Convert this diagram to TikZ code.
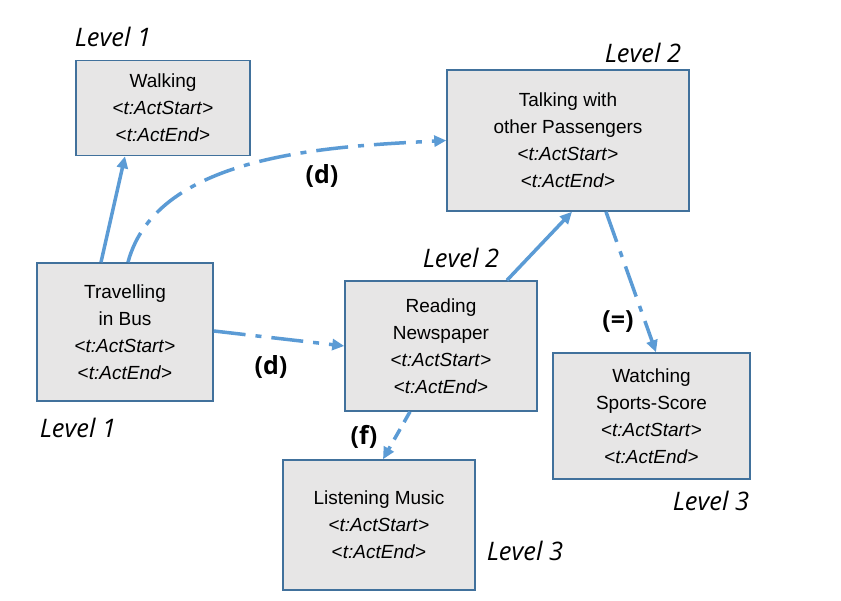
\documentclass[tikz,border=0pt]{standalone}
\usepackage{fontspec}
\setmainfont{Liberation Sans}
\newfontfamily\levelfont{Open Sans}
\usetikzlibrary{arrows.meta}
\usetikzlibrary{positioning}
\definecolor{boxfill}{HTML}{E7E6E6}
\definecolor{boxline}{HTML}{41719C}
\definecolor{arrowblue}{HTML}{5B9BD5}
\tikzset{>=latex}
\tikzstyle{act} = [rectangle, draw = boxline, fill = boxfill, line width = 1.5pt, inner sep = 0, align = center, font = \fontsize{19pt}{27pt}\selectfont]
\tikzstyle{lvl} = [draw=none, inner sep = 1, font = \levelfont\itshape\fontsize{25.5pt}{29pt}\selectfont]
\tikzstyle{rel} = [draw=none, inner sep = 1, font = \levelfont\bfseries\fontsize{25pt}{29pt}\selectfont]
\tikzstyle{link} = [arrowblue, line width = 3.5pt, -{Triangle[length=12pt, width=11pt]}]
\tikzstyle{dashdot} = [link, dash pattern = on 32pt off 10pt on 6pt off 10pt]
\newcommand{\stamps}{\\ \textless\textit{t:ActStart}\textgreater \\ \textless\textit{t:ActEnd}\textgreater}

\begin{document}
\begin{tikzpicture}[x=1pt, y=1pt]
\useasboundingbox (0, 0) rectangle (841, 601);
\node [act, minimum width = 174, minimum height = 95] (Walk) at (163, 493) {Walking\stamps};
\node [act, minimum width = 242, minimum height = 141] (Talk) at (568, 460.5) {Talking with\\ other Passengers\stamps};
\node [act, minimum width = 176, minimum height = 138] (Travel) at (125, 269) {Travelling\\ in Bus\stamps};
\node [act, minimum width = 192, minimum height = 130] (Read) at (441, 255) {Reading\\ Newspaper\stamps};
\node [act, minimum width = 197, minimum height = 126] (Watch) at (651.5, 185) {Watching\\ Sports-Score\stamps};
\node [act, minimum width = 192, minimum height = 130] (Listen) at (379, 76) {Listening Music\stamps};
\node [lvl] (LWalk) at (113, 564) {Level 1};
\node [lvl] (LTalk) at (643, 548) {Level 2};
\node [lvl] (LRead) at (461, 343) {Level 2};
\node [lvl] (LTravel) at (78, 173) {Level 1};
\node [lvl] (LWatch) at (711, 100) {Level 3};
\node [lvl] (LListen) at (525, 50) {Level 3};
\node [rel] (RTalk) at (322, 425) {(d)};
\node [rel] (RRead) at (271, 234) {(d)};
\node [rel] (RListen) at (364, 164) {(f)};
\node [rel] (RWatch) at (618, 279) {(=)};
\draw [link] ([xshift=-24]Travel.north) to ([xshift=-38]Walk.south);
\draw [dashdot] ([xshift=3]Travel.north) to [out=75, in=183, looseness=0.85] (Talk.west);
\draw [dashdot] ([yshift=1]Travel.east) to (Read.west);
\draw [link] ([xshift=66]Read.north) to ([xshift=4]Talk.south);
\draw [dashdot] ([xshift=38]Talk.south) to ([xshift=4.5]Watch.north);
\draw [link, dash pattern = on 12pt off 8pt] ([xshift=-31]Read.south) to ([xshift=4]Listen.north);
\end{tikzpicture}
\end{document}
